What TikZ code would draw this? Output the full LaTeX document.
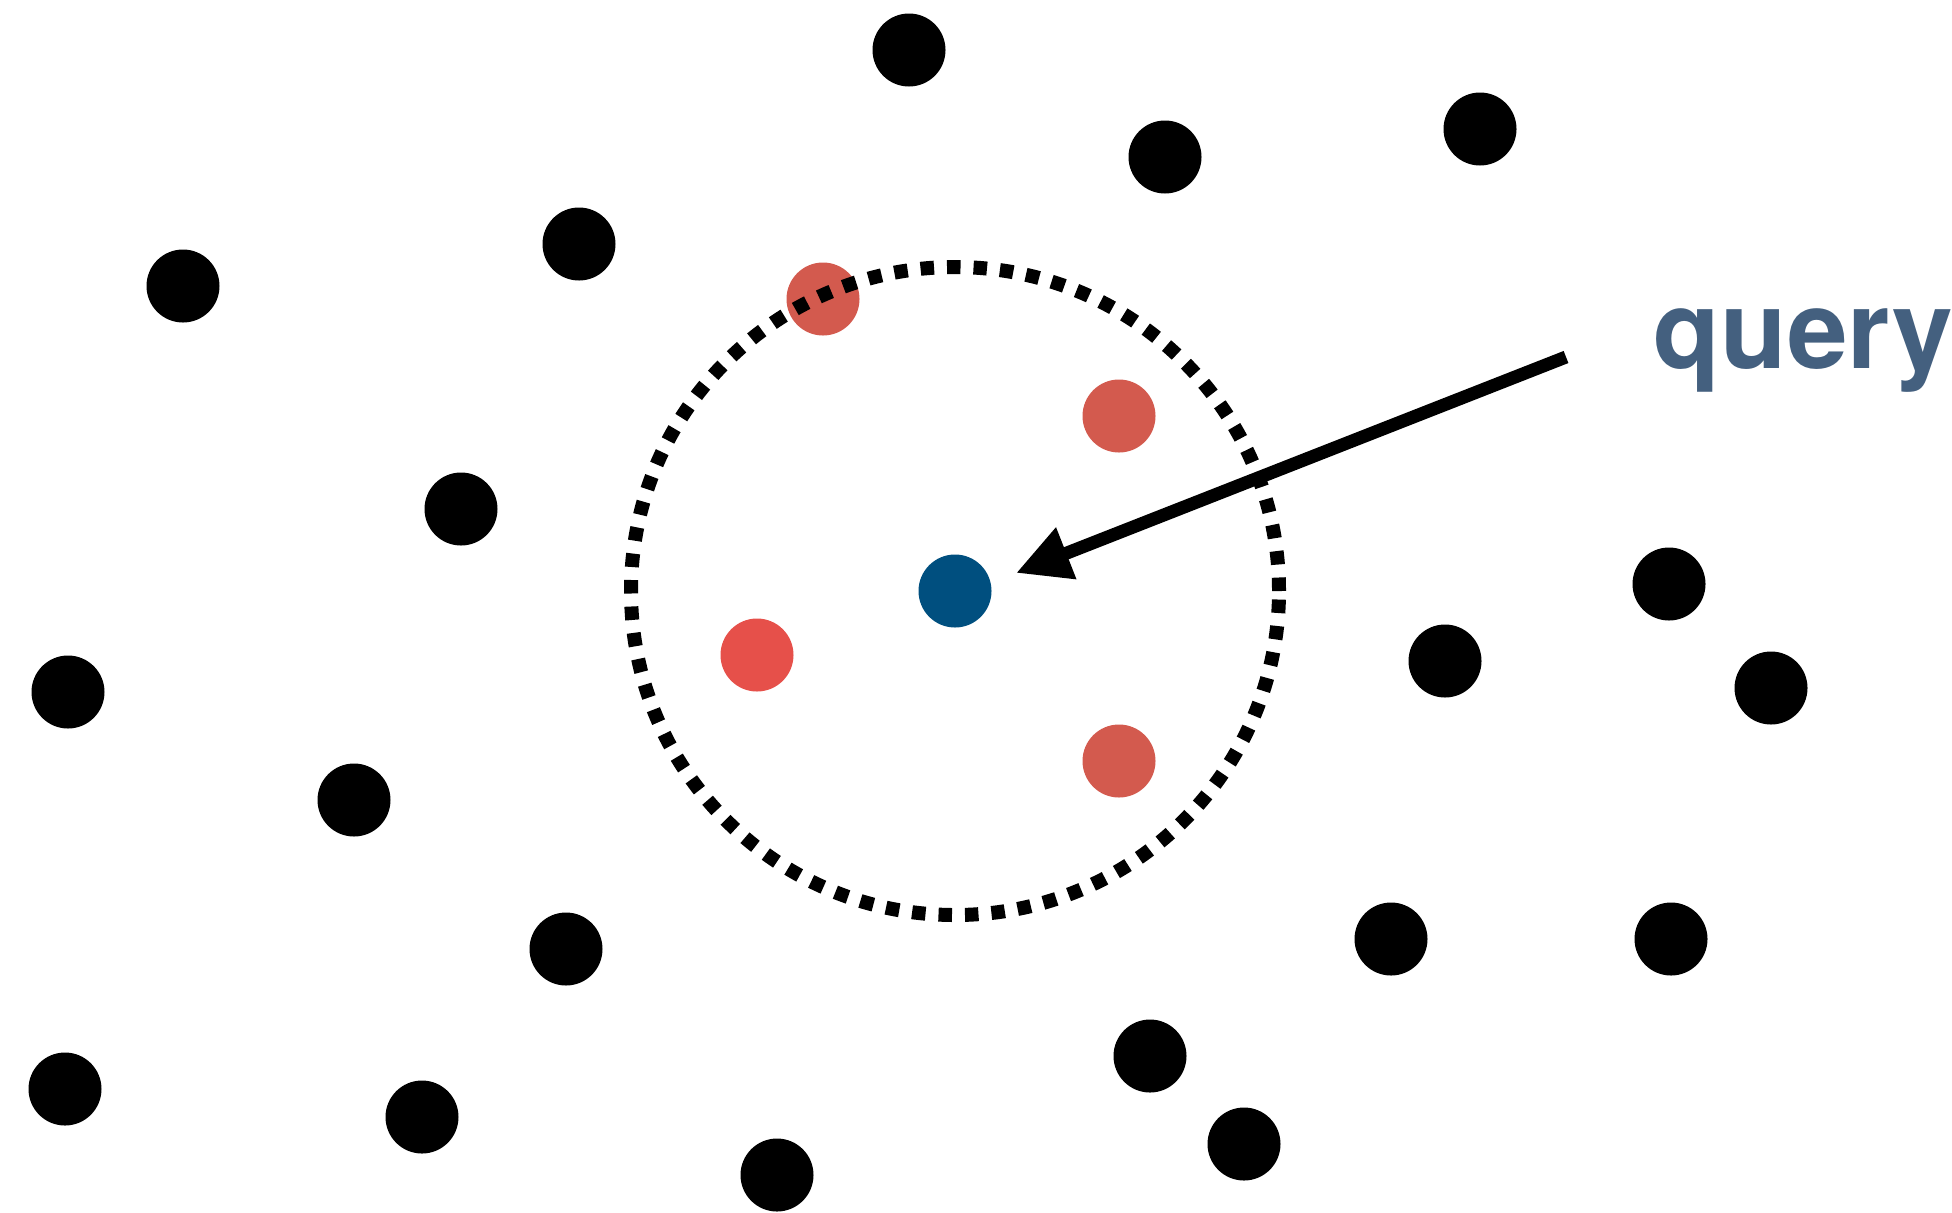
\documentclass[tikz,border=0pt]{standalone}
\usepackage{fontspec}
\setmainfont{TeX Gyre Heros}
\usetikzlibrary{arrows.meta}
\definecolor{redA}{HTML}{D35A4E}
\definecolor{redB}{HTML}{E6504A}
\definecolor{qblue}{HTML}{004F7F}
\definecolor{txtblue}{HTML}{44607F}
\begin{document}
\begin{tikzpicture}[x=0.5pt,y=-0.5pt,
  dot/.style={circle,fill=black,inner sep=0pt,minimum size=36.5pt},
  reddot/.style={dot,fill=redA},
  reddotB/.style={dot,fill=redB},
  qdot/.style={dot,fill=qblue},
  searchcircle/.style={line width=7pt,dash pattern=on 6.75pt off 6.5pt},
  qarrow/.style={line width=6.5pt,-{Triangle[length=27pt,width=26pt]}},
  qlabel/.style={anchor=base west,text=txtblue,font=\fontsize{54.5}{60}\selectfont\bfseries,inner sep=0pt}]
\useasboundingbox (0,0) rectangle (1952,1212);
% black points
\node[dot] (b1) at (909,50) {};
\node[dot] (b2) at (1165,157) {};
\node[dot] (b3) at (1480,129) {};
\node[dot] (b4) at (579,244) {};
\node[dot] (b5) at (183,286) {};
\node[dot] (b6) at (461,509) {};
\node[dot] (b7) at (68,692) {};
\node[dot] (b8) at (354,800) {};
\node[dot] (b9) at (566,949) {};
\node[dot] (b10) at (65,1089) {};
\node[dot] (b11) at (422,1117) {};
\node[dot] (b12) at (777,1175) {};
\node[dot] (b13) at (1150,1056) {};
\node[dot] (b14) at (1244,1144) {};
\node[dot] (b15) at (1391,939) {};
\node[dot] (b16) at (1671,939) {};
\node[dot] (b17) at (1445,661) {};
\node[dot] (b18) at (1669,584) {};
\node[dot] (b19) at (1771,688) {};
% neighbours
\node[reddot] (r1) at (823,299) {};
\node[reddot] (r2) at (1119,416) {};
\node[reddotB] (r3) at (757,655) {};
\node[reddot] (r4) at (1119,761) {};
% query point
\node[qdot] (q) at (955,591) {};
% search radius
\draw[searchcircle] (q.center) circle[radius=162pt];
% label and arrow
\coordinate (astart) at (1566,357);
\coordinate (aend) at (1016,573);
\draw[qarrow] (astart) -- (aend);
\node[qlabel] (lbl) at (1653,368) {query};
\end{tikzpicture}
\end{document}
